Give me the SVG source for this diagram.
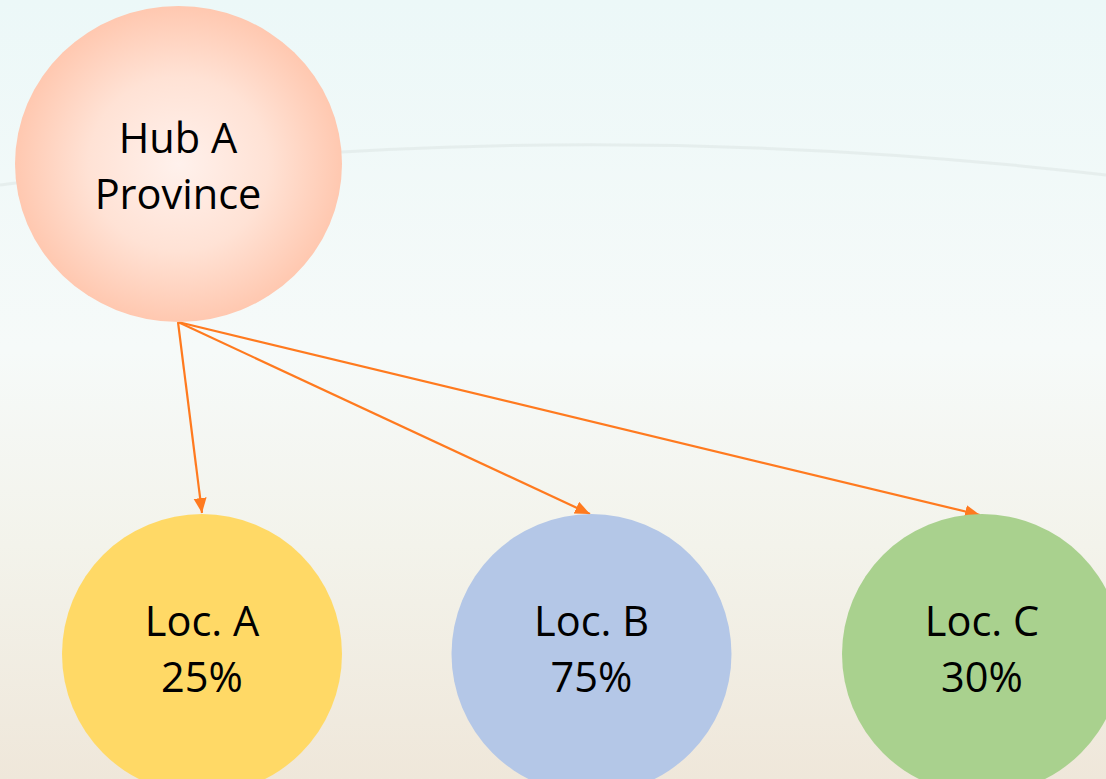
<svg xmlns="http://www.w3.org/2000/svg" width="1106" height="779" viewBox="0 0 1106 779">
  <defs>
    <linearGradient id="bg" x1="0" y1="0" x2="0" y2="1">
      <stop offset="0" stop-color="#ecf8f8"/>
      <stop offset="0.45" stop-color="#f6faf9"/>
      <stop offset="0.7" stop-color="#f3f3eb"/>
      <stop offset="1" stop-color="#efe7da"/>
    </linearGradient>
    <radialGradient id="hubg" cx="0.5" cy="0.5" r="0.5">
      <stop offset="0" stop-color="#fff1ec"/>
      <stop offset="0.55" stop-color="#ffe2d5"/>
      <stop offset="1" stop-color="#ffc8b0"/>
    </radialGradient>
    <marker id="arr" markerUnits="userSpaceOnUse" markerWidth="16" markerHeight="14" refX="15" refY="6.5" orient="auto">
      <path d="M0,0 L15,6.5 L0,13 z" fill="#ff7a1f"/>
    </marker>
    <style>
      .lbl { font-family: "Open Sans", "Noto Sans", sans-serif; font-size: 41.5px; fill: #000; text-anchor: middle; }
      .conn { stroke: #ff7a1f; stroke-width: 2.2; fill: none; marker-end: url(#arr); }
    </style>
  </defs>
  <rect x="0" y="0" width="1106" height="779" fill="url(#bg)"/>
  <path d="M0,185 Q550,110 1106,175" stroke="#dde5e3" stroke-opacity="0.55" stroke-width="3" fill="none"/>

  <g id="connectors">
    <line class="conn" x1="178" y1="322" x2="202" y2="513"/>
    <line class="conn" x1="178" y1="322" x2="590" y2="514"/>
    <line class="conn" x1="178" y1="322" x2="980" y2="515"/>
  </g>

  <g id="hub">
    <ellipse cx="178.5" cy="164" rx="163.5" ry="158" fill="url(#hubg)"/>
    <text class="lbl" x="178" y="153">Hub A</text>
    <text class="lbl" x="178" y="209">Province</text>
  </g>

  <g id="locA">
    <ellipse cx="202" cy="654" rx="140" ry="140" fill="#ffd966"/>
    <text class="lbl" x="202" y="636">Loc. A</text>
    <text class="lbl" x="202" y="692">25%</text>
  </g>

  <g id="locB">
    <ellipse cx="591.5" cy="654" rx="140" ry="140" fill="#b4c7e7"/>
    <text class="lbl" x="591.5" y="636">Loc. B</text>
    <text class="lbl" x="591.5" y="692">75%</text>
  </g>

  <g id="locC">
    <ellipse cx="982" cy="654" rx="140" ry="140" fill="#a9d18e"/>
    <text class="lbl" x="982" y="636">Loc. C</text>
    <text class="lbl" x="982" y="692">30%</text>
  </g>
</svg>
